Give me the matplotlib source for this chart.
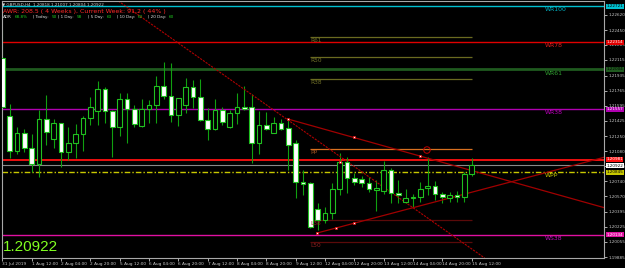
import numpy as np
import matplotlib.pyplot as plt
from matplotlib.transforms import blended_transform_factory

W, H = 625, 268

# GBPUSD H4 candles, 31 Jul 20:00 .. 15 Aug 12:00
opens = [1.22134, 1.21478, 1.21083, 1.21286, 1.21117, 1.20936, 1.21444, 1.21218, 1.21399, 1.21071,
         1.21173, 1.21275, 1.21456, 1.21535, 1.21783, 1.21535, 1.21354, 1.21670, 1.21557, 1.21365,
         1.21557, 1.21603, 1.21817, 1.21704, 1.21490, 1.21603, 1.21806, 1.21693, 1.21433, 1.21331,
         1.21546, 1.21354, 1.21512, 1.21580, 1.21580, 1.21173, 1.21377, 1.21286, 1.21399, 1.21343,
         1.21173, 1.20733, 1.20721, 1.20427, 1.20303, 1.20382, 1.20653, 1.20959, 1.20778, 1.20766,
         1.20721, 1.20642, 1.20631, 1.20868, 1.20608, 1.20506, 1.20552, 1.20563, 1.20665, 1.20687,
         1.20597, 1.20552, 1.20586, 1.20563, 1.20818]
highs = [1.22450, 1.21614, 1.21354, 1.21331, 1.21275, 1.21546, 1.21716, 1.21444, 1.21399, 1.21354,
         1.21388, 1.21478, 1.21693, 1.21874, 1.21806, 1.21546, 1.21738, 1.21738, 1.21603, 1.21670,
         1.21659, 1.21930, 1.22088, 1.22077, 1.21682, 1.21908, 1.21885, 1.21896, 1.21569, 1.21670,
         1.21580, 1.21546, 1.21738, 1.21817, 1.21727, 1.21535, 1.21523, 1.21467, 1.21444, 1.21433,
         1.21207, 1.20868, 1.20733, 1.20495, 1.20450, 1.20721, 1.21060, 1.21015, 1.20834, 1.20800,
         1.20789, 1.20755, 1.20970, 1.20891, 1.20755, 1.20653, 1.20597, 1.20733, 1.21015, 1.20744,
         1.20619, 1.20619, 1.20631, 1.20845, 1.21007]
lows = [1.21569, 1.21004, 1.21049, 1.21071, 1.20845, 1.20789, 1.21151, 1.21117, 1.20902, 1.20981,
        1.21004, 1.21083, 1.21377, 1.21377, 1.21399, 1.21015, 1.21252, 1.21173, 1.21354, 1.21354,
        1.21399, 1.21399, 1.21670, 1.21411, 1.21365, 1.21512, 1.21569, 1.21422, 1.21207, 1.21320,
        1.21377, 1.21343, 1.21388, 1.21546, 1.20948, 1.21049, 1.21320, 1.21286, 1.21320, 1.20868,
        1.20552, 1.20586, 1.20213, 1.20190, 1.20269, 1.20314, 1.20586, 1.20608, 1.20699, 1.20676,
        1.20619, 1.20405, 1.20597, 1.20495, 1.20495, 1.20495, 1.20450, 1.20506, 1.20586, 1.20529,
        1.20495, 1.20506, 1.20506, 1.20506, 1.20804]
closes = [1.21580, 1.21083, 1.21286, 1.21117, 1.20936, 1.21444, 1.21297, 1.21399, 1.21071, 1.21173,
          1.21275, 1.21456, 1.21580, 1.21783, 1.21535, 1.21354, 1.21670, 1.21557, 1.21388, 1.21557,
          1.21603, 1.21817, 1.21704, 1.21490, 1.21682, 1.21806, 1.21693, 1.21433, 1.21331, 1.21546,
          1.21411, 1.21512, 1.21580, 1.21557, 1.21173, 1.21377, 1.21331, 1.21399, 1.21331, 1.21151,
          1.20733, 1.20710, 1.20224, 1.20303, 1.20382, 1.20653, 1.20959, 1.20778, 1.20733, 1.20721,
          1.20653, 1.20665, 1.20868, 1.20608, 1.20586, 1.20552, 1.20563, 1.20653, 1.20687, 1.20597,
          1.20563, 1.20586, 1.20563, 1.20823, 1.20922]

time_ticks = [0, 4, 8, 12, 16, 20, 24, 28, 32, 36, 40, 44, 48, 52, 56, 60, 64]
time_labels = ['31 Jul 2019', '1 Aug 12:00', '2 Aug 04:00', '2 Aug 20:00', '5 Aug 12:00',
               '6 Aug 04:00', '6 Aug 20:00', '7 Aug 12:00', '8 Aug 04:00', '8 Aug 20:00',
               '9 Aug 12:00', '12 Aug 04:00', '12 Aug 20:00', '13 Aug 12:00', '14 Aug 04:00',
               '14 Aug 20:00', '15 Aug 12:00']
price_ticks = [1.19885, 1.20055, 1.20225, 1.20395, 1.20570, 1.20740, 1.20910, 1.21080, 1.21250,
               1.21425, 1.21595, 1.21765, 1.21935, 1.22115, 1.22285, 1.22450, 1.22620]

# weekly levels (full width)
wk_names = ['WR100', 'WR78', 'WR61', 'WR38', 'WPP', 'WS38']
wk_prices = [1.22721, 1.22314, 1.22004, 1.21557, 1.20845, 1.20134]
# daily levels (short lines)
dl_names = ['R61', 'R50', 'R38', 'PP', 'L38', 'L50']
dl_prices = [1.22367, 1.22142, 1.21893, 1.21102, 1.20303, 1.20054]
red_level = 1.20981
last_price = 1.20922

# trendlines: (bar, price) anchor pairs
tl_down1 = [(21.63, 1.22440), (38.95, 1.21433)]
tl_down2 = [(38.95, 1.21444), (56.95, 1.21026)]
tl_up = [(42.9, 1.20156), (65.13, 1.20642)]
mark_x = [38.95, 47.95, 56.95, 42.9, 45.5, 48.0, 46.0]
mark_y = [1.21444, 1.21245, 1.21026, 1.20156, 1.20209, 1.20266, 1.20959]

header = 'GBPUSD,H4  1.20818 1.21007 1.20804 1.20922'
awr_text = 'AWR: 208.5 ( 4 Weeks ), Current Week: 91.2 ( 44% )'
adr_pct = '68.8%'
adr_lab = ['| Today:', '| 1 Day:', '| 5 Day:', '| 10 Day:', '| 20 Day:']
adr_val = ['50', '58', '63', '62', '60']

wk_colors = ['#00c0d0', '#e00000', '#1f5a1f', '#b000b0', '#c8c800', '#e010a0']
wk_text = ['#00b0c0', '#e02020', '#30a030', '#c000c0', '#c8c800', '#c010c0']
box_text = ['black', 'white', 'black', 'white', 'black', 'white']
dl_colors = ['#6a6a20', '#6a6a20', '#6a6a20', '#d87020', '#5a0a0a', '#5a0a0a']
dl_text = ['#707028', '#707028', '#707028', '#a05020', '#902020', '#902020']

fig = plt.figure(figsize=(W / 100, H / 100), dpi=100, facecolor='black')
ax = fig.add_axes([2 / W, 10 / H, 602 / W, 257 / H], facecolor='black')
ax.set_xlim(-0.05, 82.04)
ax.set_ylim(1.19874, 1.22778)

x = np.arange(len(opens))
o = np.array(opens); c = np.array(closes)
ax.vlines(x, lows, highs, color='#10a010', lw=0.8, zorder=2)
bottom = np.minimum(o, c)
height = np.maximum(np.abs(c - o), 0.00003)
face = ['white' if cc < oo else 'black' for oo, cc in zip(o, c)]
ax.bar(x, height, bottom=bottom, width=0.62, color=face, edgecolor='#20c020',
       linewidth=0.8, zorder=3)

trans = blended_transform_factory(ax.transAxes, ax.transData)
box_fs = 3.0
ls = ['-', '-', '-', '-', (0, (4, 1.5, 1, 1.5)), '-']
lw = [1.0, 1.0, 2.0, 1.0, 1.0, 1.0]
for name, p, col, tcol, bt, s, w in zip(wk_names, wk_prices, wk_colors, wk_text, box_text, ls, lw):
    ax.axhline(p, color=col, lw=w, ls=s, zorder=1)
    ax.text(74, p - 0.00012, name, color=tcol, fontsize=4.4, va='top', ha='left', zorder=4)
    ax.text(1.004, p, f'{p:.5f}', transform=trans, color=bt, fontsize=box_fs, va='center',
            ha='left', clip_on=False, zorder=6,
            bbox=dict(boxstyle='square,pad=0.12', fc=col, ec='none'))

for name, p, col, tcol in zip(dl_names, dl_prices, dl_colors, dl_text):
    ax.hlines(p, 42, 64, color=col, lw=0.9, zorder=1)
    ax.text(42, p - 0.00008, name, color=tcol, fontsize=4.2, va='top', ha='left', zorder=4)

ax.axhline(red_level, color='#ff1010', lw=1.3, zorder=1)
ax.axhline(last_price, color='#888888', lw=0.8, zorder=1)
ax.text(1.004, red_level + 0.00007, f'{red_level:.5f}', transform=trans, color='white',
        fontsize=box_fs, va='center', ha='left', clip_on=False, zorder=6,
        bbox=dict(boxstyle='square,pad=0.08', fc='#ff1010', ec='none'))
ax.text(1.004, last_price - 0.00006, f'{last_price:.5f}', transform=trans, color='black',
        fontsize=box_fs, va='center', ha='left', clip_on=False, zorder=7,
        bbox=dict(boxstyle='square,pad=0.08', fc='white', ec='none'))

# trendlines
ax.axline(tl_down1[0], tl_down1[1], color='#b00000', lw=0.8, ls=(0, (2, 1)), zorder=2)
for (x0, y0), (x1, y1) in [tl_down2, tl_up]:
    k = (y1 - y0) / (x1 - x0)
    ax.plot([x0, 82.04], [y0, y0 + k * (82.04 - x0)], color='#a00000', lw=0.9, zorder=2)
ax.scatter(mark_x, mark_y, s=4, marker='s', color='white', edgecolors='#e00000',
           linewidths=0.5, zorder=5)
ax.scatter([57.9], [1.21094], s=22, marker='o', facecolors='none', edgecolors='#c00000',
           linewidths=0.7, zorder=5)

for sp in ax.spines.values():
    sp.set_color('#a8a8a8')
    sp.set_linewidth(0.8)

ax.yaxis.tick_right()
ax.set_yticks(price_ticks)
ax.set_yticklabels([f'{p:.5f}' for p in price_ticks])
ax.tick_params(axis='y', colors='#c8c8c8', labelsize=3.0, length=2, width=0.6, pad=1.2)
ax.set_xticks(time_ticks)
ax.set_xticklabels(time_labels)
ax.tick_params(axis='x', colors='#c8c8c8', labelsize=3.1, length=2, width=0.6, pad=1.2)
for lab in ax.get_xticklabels():
    lab.set_ha('left')

def ftext(px, py, s, **kw):
    fig.text(px / W, 1 - py / H, s, va='center', ha='left', **kw)

ftext(2, 4, '\u25BC ' + header, color='#d0d0d0', fontsize=3.0)
ftext(3, 11, awr_text, color='#ff2828', fontsize=4.5)
ftext(3, 17, 'ADR', color='#e0e0e0', fontsize=3.0)
ftext(15, 17, adr_pct, color='#20d020', fontsize=3.0)
adr_x = [33, 58, 88, 117, 148]
for px, lab, v in zip(adr_x, adr_lab, adr_val):
    ftext(px, 17, lab, color='#e0e0e0', fontsize=3.0)
    ftext(px + 2.1 * len(lab) + 2, 17, v, color='#20d020', fontsize=3.0)

ftext(3, 247, f'{last_price:.5f}', color='#80ff20', fontsize=11, family='Liberation Sans')

fig.savefig('out.png', dpi=100, facecolor='black')
